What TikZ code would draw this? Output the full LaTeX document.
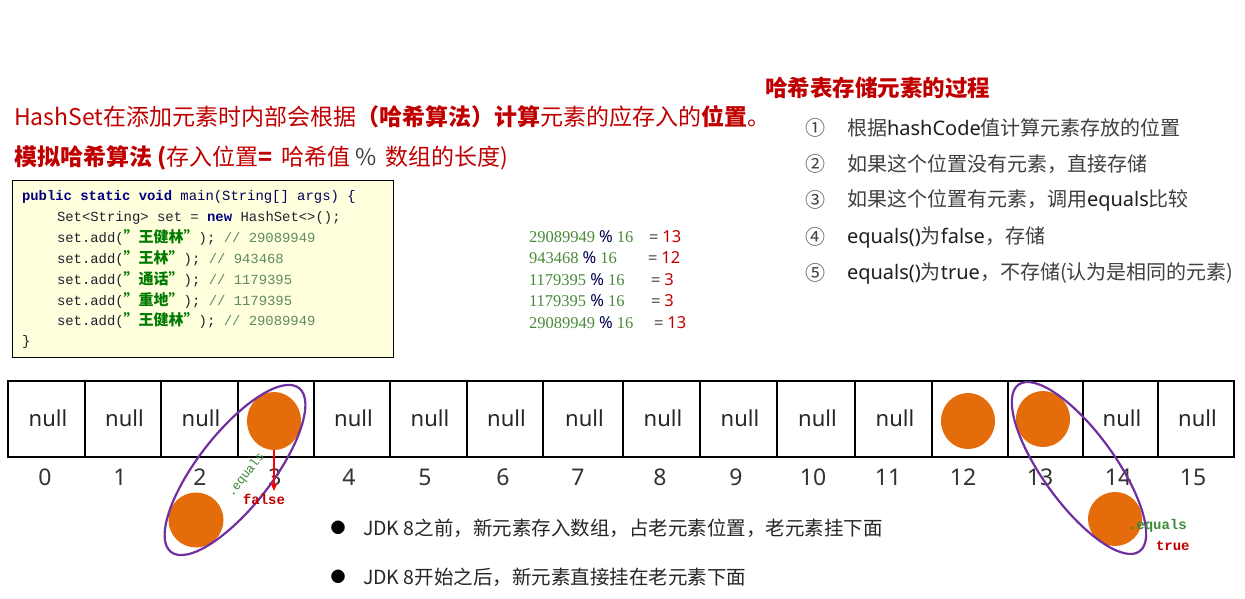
\documentclass[tikz,border=0pt]{standalone}
\usepackage{fontspec}
\setmainfont{Noto Sans CJK SC}
\newfontfamily\cjkf{Noto Sans CJK SC}
\newfontfamily\monof{Liberation Mono}
\newfontfamily\latf{Noto Sans}
\newfontfamily\serf{Liberation Serif}
\usetikzlibrary{arrows.meta,shapes.geometric}
\definecolor{dred}{HTML}{C00000}
\definecolor{orng}{HTML}{E46C0A}
\definecolor{purp}{HTML}{7030A0}
\definecolor{cgreen}{HTML}{007A00}
\definecolor{cmt}{HTML}{5E8C5E}
\definecolor{navy}{HTML}{000080}
\definecolor{codetext}{HTML}{202030}
\definecolor{numg}{HTML}{4A8A3A}
\definecolor{txtg}{HTML}{404040}
\definecolor{codebg}{HTML}{FFFFDD}
\definecolor{eqg}{HTML}{3C8A3C}
\newcommand\zhstr[1]{{\cjkf\bfseries\fontsize{15}{16}\selectfont\color{cgreen}#1}}
\newcommand\latb[1]{{\latf\color{black!88}#1}}
\begin{document}
\begin{tikzpicture}[x=1pt,y=-1pt,
  every node/.style={inner sep=0pt,outer sep=0pt},
  titletxt/.style={anchor=west,text=dred,font=\fontsize{23}{28}\selectfont},
  codeline/.style={anchor=west,text=codetext,font=\monof\fontsize{13.9}{16}\selectfont},
  calc/.style={anchor=west,font=\serf\fontsize{16.5}{18}\selectfont},
  listnum/.style={anchor=west,text=txtg,font=\fontsize{20}{22}\selectfont},
  listtxt/.style={anchor=west,text=txtg,font=\fontsize{20}{22}\selectfont},
  cell/.style={draw=black,line width=2.6pt,minimum height=76pt,anchor=center},
  nulltxt/.style={text=black!85,font=\latf\fontsize{22}{24}\selectfont},
  idx/.style={text=black!80,font=\latf\fontsize{23}{26}\selectfont},
  ball/.style={fill=orng,draw=none},
  ring/.style={draw=purp,line width=2.2pt},
  bullettxt/.style={anchor=west,text=black!85,font=\fontsize{19.5}{22}\selectfont}]
\useasboundingbox (0,0) rectangle (1245,599);
\fill[white] (0,0) rectangle (1245,599);

% titles
\node[titletxt] (t1) at (14,117) {HashSet在添加元素时内部会根据\textbf{（哈希算法）计算}元素的应存入的\textbf{位置}。};
\node[titletxt] (t2) at (14,158) {\textbf{模拟哈希算法 (}存入位置\textbf{=}\, 哈希值 {\color{txtg}\%}\, 数组的长度)};

% code box
\node[draw=black,line width=0.8pt,fill=codebg,minimum width=381pt,minimum height=177pt,anchor=north west] (code) at (12,180) {};
\node[codeline] (l1) at (22,197) {{\color{navy}\bfseries public static void} {\color{navy!70!black}main(String[] args) \{}};
\node[codeline] (l2) at (57,218) {Set<String> set = {\color{navy}\bfseries new} HashSet<>();};
\node[codeline] (l3) at (57,238) {set.add(\zhstr{”王健林”}); {\color{cmt}// 29089949}};
\node[codeline] (l4) at (57,259) {set.add(\zhstr{”王林”}); {\color{cmt}// 943468}};
\node[codeline] (l5) at (57,280) {set.add(\zhstr{”通话”}); {\color{cmt}// 1179395}};
\node[codeline] (l6) at (57,301) {set.add(\zhstr{”重地”}); {\color{cmt}// 1179395}};
\node[codeline] (l7) at (57,321) {set.add(\zhstr{”王健林”}); {\color{cmt}// 29089949}};
\node[codeline] (l8) at (22,342) {\}};

% computations
\node[calc] (m1) at (529,237) {\makebox[120pt][l]{{\color{numg}29089949} {\latf\color{navy!60!black}\%} {\color{numg}16}}= {\latf\color{dred}13}};
\node[calc] (m2) at (529,258) {\makebox[119pt][l]{{\color{numg}943468} {\latf\color{navy!60!black}\%} {\color{numg}16}}= {\latf\color{dred}12}};
\node[calc] (m3) at (529,280) {\makebox[122pt][l]{{\color{numg}1179395} {\latf\color{navy!60!black}\%} {\color{numg}16}}= {\latf\color{dred}3}};
\node[calc] (m4) at (529,301) {\makebox[122pt][l]{{\color{numg}1179395} {\latf\color{navy!60!black}\%} {\color{numg}16}}= {\latf\color{dred}3}};
\node[calc] (m5) at (529,323) {\makebox[125pt][l]{{\color{numg}29089949} {\latf\color{navy!60!black}\%} {\color{numg}16}}= {\latf\color{dred}13}};

% right list
\node[anchor=west,text=dred,font=\bfseries\fontsize{22.5}{24}\selectfont] (rt) at (765,88) {哈希表存储元素的过程};
\node[listnum] (k1) at (805,128) {①};
\node[listnum] (k2) at (805,164) {②};
\node[listnum] (k3) at (805,200) {③};
\node[listnum] (k4) at (805,237) {④};
\node[listnum] (k5) at (805,273) {⑤};
\node[listtxt] (s1) at (847,128) {根据\latb{hashCode}值计算元素存放的位置};
\node[listtxt] (s2) at (847,164) {如果这个位置没有元素，直接存储};
\node[listtxt] (s3) at (847,200) {如果这个位置有元素，调用\latb{equals}比较};
\node[listtxt] (s4) at (847,237) {\latb{equals()}为\latb{false}，存储};
\node[listtxt] (s5) at (847,273) {\latb{equals()}为\latb{true}，不存储(认为是相同的元素)};

% array cells
\foreach \i/\a/\b in {0/8/85,1/85/161,2/161/238,3/238/314,4/314/390,5/390/467,6/467/543,7/543/623,8/623/700,9/700/777,10/777/855,11/855/932,12/932/1008,13/1008/1083,14/1083/1158,15/1158/1234}
  \node[cell,minimum width=\b-\a] (c\i) at ({(\a+\b)/2},419) {};
\foreach \i in {0,1,2,4,5,6,7,8,9,10,11,14,15}
  \node[nulltxt] (n\i) at ([xshift=1.5pt,yshift=1pt]c\i.center) {null};
\foreach \i/\x in {0/45,1/120,2/200,3/275,4/349,5/425,6/503,7/578,8/660,9/736,10/813,11/888,12/963,13/1040,14/1118,15/1193}
  \node[idx] (i\i) at (\x,477) {\i};

% elements
\node[ball,ellipse,minimum width=54pt,minimum height=58pt] (e3) at (274,421) {};
\node[ball,ellipse,minimum width=54pt,minimum height=56pt] (e12) at (968,421) {};
\node[ball,ellipse,minimum width=54pt,minimum height=56pt] (e13) at (1043,419) {};
\node[ball,circle,minimum size=55pt] (e3b) at (196,520) {};
\node[ball,circle,minimum size=54pt] (e13b) at (1115,519) {};

% purple rings
\draw[ring,shift={(235,470)},rotate=52] (0,0) ellipse [x radius=104pt,y radius=37pt];
\draw[ring,shift={(1079,468)},rotate=-54] (0,0) ellipse [x radius=103pt,y radius=36pt];

% equals false
\coordinate (fa) at (274,491);
\draw[red,line width=2pt,-{Stealth[length=8pt,width=7pt]}] (e3.south) -- (fa);
\node[text=dred,font=\monof\bfseries\fontsize{14}{16}\selectfont] (fl) at (264,499) {false};
\node[text=eqg,font=\monof\fontsize{12.5}{15}\selectfont,rotate=52] (eq1) at (246,475) {.equals};
\node[anchor=west,text=eqg,font=\monof\bfseries\fontsize{14}{16}\selectfont] (eq2) at (1128,526) {.equals};
\node[anchor=west,text=dred,font=\monof\bfseries\fontsize{14}{16}\selectfont] (tr) at (1156,546) {true};

% bullets
\node[font=\fontsize{15}{16}\selectfont] (b1) at (338,528) {●};
\node[font=\fontsize{15}{16}\selectfont] (b2) at (338,577) {●};
\node[bullettxt] (bt1) at (363,528) {JDK 8之前，新元素存入数组，占老元素位置，老元素挂下面};
\node[bullettxt] (bt2) at (363,577) {JDK 8开始之后，新元素直接挂在老元素下面};
\end{tikzpicture}
\end{document}
